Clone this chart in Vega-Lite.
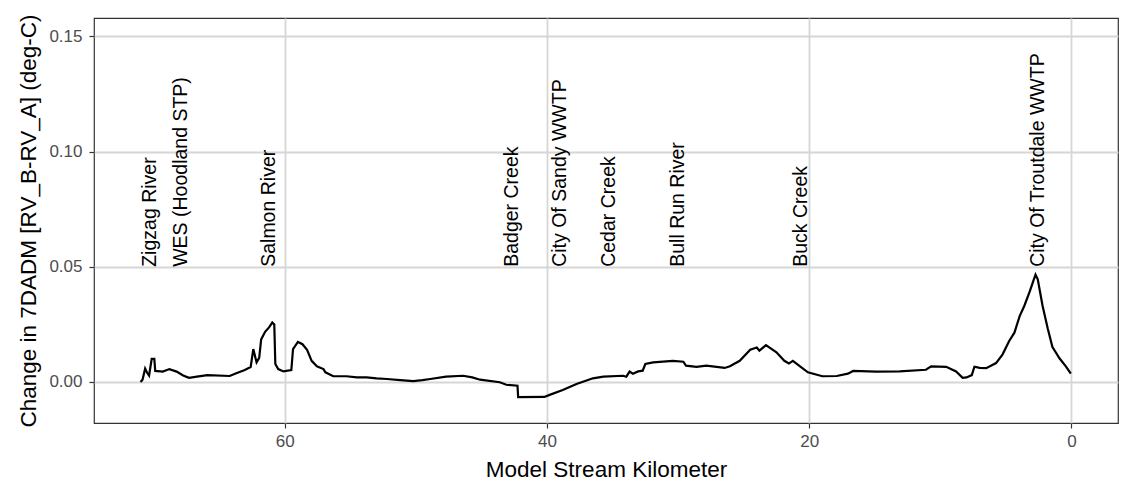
{
  "$schema": "https://vega.github.io/schema/vega-lite/v6.json",
  "width": 1024,
  "height": 405,
  "autosize": {"type": "none"},
  "padding": {"left": 94, "top": 18, "right": 5, "bottom": 57},
  "background": "white",
  "config": {
    "font": "Liberation Sans",
    "view": {"stroke": "#333333", "strokeWidth": 1.2},
    "axis": {
      "domain": false,
      "grid": true,
      "gridColor": "#d6d6d6",
      "gridWidth": 1.8,
      "tickColor": "#333333",
      "tickSize": 5,
      "tickWidth": 1.2,
      "labelFontSize": 17,
      "labelColor": "#4d4d4d",
      "labelPadding": 5,
      "titleFontSize": 22.5,
      "titleFontWeight": "normal",
      "titleColor": "black"
    }
  },
  "datasets": {
    "profile": [
      {"km": 71.0, "v": 0.0},
      {"km": 70.85, "v": 0.001},
      {"km": 70.65, "v": 0.0058},
      {"km": 70.5, "v": 0.004},
      {"km": 70.35, "v": 0.0028},
      {"km": 70.15, "v": 0.01},
      {"km": 69.95, "v": 0.01},
      {"km": 69.88, "v": 0.0048},
      {"km": 69.3, "v": 0.0045},
      {"km": 68.8, "v": 0.0056},
      {"km": 68.25, "v": 0.0045},
      {"km": 67.75, "v": 0.0028},
      {"km": 67.3, "v": 0.0018},
      {"km": 66.7, "v": 0.0023},
      {"km": 65.9, "v": 0.003},
      {"km": 64.2, "v": 0.0026},
      {"km": 63.7, "v": 0.0038},
      {"km": 63.05, "v": 0.0052},
      {"km": 62.6, "v": 0.0065},
      {"km": 62.4, "v": 0.0143},
      {"km": 62.15, "v": 0.0085},
      {"km": 61.95, "v": 0.0105},
      {"km": 61.8, "v": 0.0185},
      {"km": 61.5, "v": 0.0218},
      {"km": 61.2, "v": 0.0237},
      {"km": 60.95, "v": 0.0258},
      {"km": 60.8, "v": 0.025},
      {"km": 60.72, "v": 0.0078},
      {"km": 60.5, "v": 0.0056},
      {"km": 60.1, "v": 0.0046},
      {"km": 59.5, "v": 0.0052},
      {"km": 59.37, "v": 0.0143},
      {"km": 59.0, "v": 0.0174},
      {"km": 58.65, "v": 0.0164},
      {"km": 58.3, "v": 0.014},
      {"km": 57.95, "v": 0.0092},
      {"km": 57.55, "v": 0.0068},
      {"km": 57.05, "v": 0.0056},
      {"km": 56.9, "v": 0.0042},
      {"km": 56.3, "v": 0.0025},
      {"km": 55.3, "v": 0.0025},
      {"km": 54.5, "v": 0.002},
      {"km": 53.75, "v": 0.002},
      {"km": 53.0, "v": 0.0016},
      {"km": 52.2, "v": 0.0013},
      {"km": 51.2, "v": 0.0008},
      {"km": 50.2, "v": 0.0004},
      {"km": 49.5, "v": 0.0008},
      {"km": 48.9, "v": 0.0013},
      {"km": 47.7, "v": 0.0023},
      {"km": 46.4, "v": 0.0027},
      {"km": 45.7, "v": 0.002},
      {"km": 45.1, "v": 0.001},
      {"km": 43.6, "v": -0.0001},
      {"km": 43.1, "v": -0.0012},
      {"km": 42.25, "v": -0.0016},
      {"km": 42.2, "v": -0.0066},
      {"km": 40.2, "v": -0.0065},
      {"km": 39.8, "v": -0.0056},
      {"km": 38.8, "v": -0.0035},
      {"km": 37.75, "v": -0.0009},
      {"km": 36.5, "v": 0.0016},
      {"km": 35.7, "v": 0.0023},
      {"km": 34.2, "v": 0.0027},
      {"km": 33.95, "v": 0.0023},
      {"km": 33.7, "v": 0.0045},
      {"km": 33.45, "v": 0.0036},
      {"km": 33.05, "v": 0.0046},
      {"km": 32.7, "v": 0.0049},
      {"km": 32.5, "v": 0.0078},
      {"km": 31.9, "v": 0.0085},
      {"km": 30.4, "v": 0.0092},
      {"km": 29.6, "v": 0.0088},
      {"km": 29.4, "v": 0.0071},
      {"km": 28.6, "v": 0.0066},
      {"km": 27.85, "v": 0.0071},
      {"km": 26.45, "v": 0.0061},
      {"km": 26.05, "v": 0.0068},
      {"km": 25.3, "v": 0.0092},
      {"km": 24.5, "v": 0.014},
      {"km": 24.0, "v": 0.015},
      {"km": 23.8, "v": 0.0136},
      {"km": 23.3, "v": 0.016},
      {"km": 22.5, "v": 0.0129},
      {"km": 21.9, "v": 0.0092},
      {"km": 21.55, "v": 0.008},
      {"km": 21.25, "v": 0.0092},
      {"km": 20.7, "v": 0.0068},
      {"km": 20.1, "v": 0.0042},
      {"km": 19.0, "v": 0.0025},
      {"km": 17.9, "v": 0.0026},
      {"km": 17.05, "v": 0.0036},
      {"km": 16.65, "v": 0.0048},
      {"km": 14.9, "v": 0.0045},
      {"km": 13.1, "v": 0.0046},
      {"km": 11.1, "v": 0.0053},
      {"km": 10.7, "v": 0.0068},
      {"km": 9.55, "v": 0.0066},
      {"km": 8.8, "v": 0.0046},
      {"km": 8.3, "v": 0.0018},
      {"km": 8.0, "v": 0.002},
      {"km": 7.6, "v": 0.003},
      {"km": 7.4, "v": 0.0066},
      {"km": 7.0, "v": 0.0061},
      {"km": 6.5, "v": 0.006},
      {"km": 5.75, "v": 0.0082},
      {"km": 5.25, "v": 0.012},
      {"km": 4.75, "v": 0.0178},
      {"km": 4.35, "v": 0.0214},
      {"km": 3.95, "v": 0.0286},
      {"km": 3.6, "v": 0.033},
      {"km": 3.2, "v": 0.039},
      {"km": 2.9, "v": 0.044},
      {"km": 2.74, "v": 0.0466},
      {"km": 2.57, "v": 0.0446},
      {"km": 2.2, "v": 0.033},
      {"km": 1.8, "v": 0.023},
      {"km": 1.45, "v": 0.0152},
      {"km": 0.9, "v": 0.0102},
      {"km": 0.4, "v": 0.0066},
      {"km": 0.05, "v": 0.0036}
    ],
    "labels": [
      {"km": 70.3, "name": "Zigzag River"},
      {"km": 67.9, "name": "WES (Hoodland STP)"},
      {"km": 61.2, "name": "Salmon River"},
      {"km": 42.7, "name": "Badger Creek"},
      {"km": 39.0, "name": "City Of Sandy WWTP"},
      {"km": 35.3, "name": "Cedar Creek"},
      {"km": 30.0, "name": "Bull Run River"},
      {"km": 20.6, "name": "Buck Creek"},
      {"km": 2.57, "name": "City Of Troutdale WWTP"}
    ]
  },
  "layer": [
    {
      "data": {"name": "profile"},
      "mark": {"type": "line", "color": "black", "strokeWidth": 2.2},
      "encoding": {
        "x": {
          "field": "km",
          "type": "quantitative",
          "scale": {"domain": [74.55, -3.55], "nice": false, "zero": false},
          "axis": {"values": [0, 20, 40, 60], "title": "Model Stream Kilometer", "titlePadding": 9}
        },
        "y": {
          "field": "v",
          "type": "quantitative",
          "scale": {"domain": [-0.0178, 0.158], "nice": false, "zero": false},
          "axis": {"values": [0, 0.05, 0.1, 0.15], "format": ".2f", "title": "Change in 7DADM [RV_B-RV_A] (deg-C)", "titlePadding": 8, "labelPadding": 7}
        }
      }
    },
    {
      "data": {"name": "labels"},
      "mark": {"type": "text", "angle": 270, "align": "left", "baseline": "middle", "fontSize": 19.5, "color": "black"},
      "encoding": {
        "x": {"field": "km", "type": "quantitative"},
        "y": {"datum": 0.05},
        "text": {"field": "name"}
      }
    }
  ]
}
